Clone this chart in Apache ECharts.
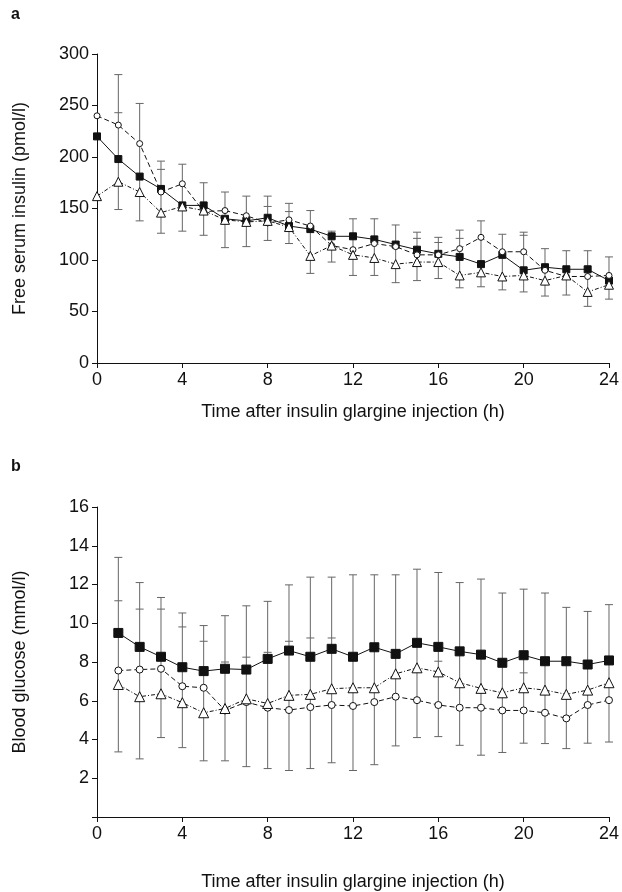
<!DOCTYPE html>
<html lang="en" style="height: 100%">
<head>
  <meta charset="utf-8">
</head>
<body style="height: 100%; margin: 0; background: #fff">
  <div id="container" style="height: 100%"></div>
  <script type="text/javascript" src="https://cdn.jsdelivr.net/npm/echarts@6/dist/echarts.min.js"></script>
  <script type="text/javascript">
    // panel a: free serum insulin (pmol/l), hours 0..24
    var hoursA = [0, 1, 2, 3, 4, 5, 6, 7, 8, 9, 10, 11, 12, 13, 14, 15, 16, 17, 18, 19, 20, 21, 22, 23, 24];
    var insulinSquare = [220, 198, 181, 169, 153, 153, 140, 138, 141, 133, 130, 123, 123, 120, 115, 110, 106, 103, 96, 105, 90, 93, 91, 91, 80];
    var insulinCircle = [240, 231, 213, 166, 174, 147, 148, 143, 136, 139, 133, 114, 110, 116, 113, 105, 105, 111, 122, 108, 108, 90, 84, 84, 85];
    var insulinTriangle = [162, 176, 166, 146, 152, 148, 139, 137, 138, 132, 104, 114, 105, 102, 96, 98, 98, 85, 88, 84, 85, 80, 85, 69, 76];
    var insulinHigh = [null, 280, 252, 196, 193, 175, 166, 162, 162, 155, 148, 128, 140, 140, 134, 127, 122, 129, 138, 125, 127, 111, 109, 109, 103];
    var insulinLow = [null, 149, 138, 126, 128, 124, 112, 113, 119, 116, 87, 98, 85, 85, 78, 80, 82, 73, 74, 71, 69, 65, 66, 55, 62];
    var insulinMid = [null, 243, null, 188, null, null, null, null, 152, 147, null, null, null, null, null, 121, 117, 121, null, null, 124, null, null, null, null];

    // panel b: blood glucose (mmol/l), hours 1..24
    var hoursB = [1, 2, 3, 4, 5, 6, 7, 8, 9, 10, 11, 12, 13, 14, 15, 16, 17, 18, 19, 20, 21, 22, 23, 24];
    var glucoseSquare = [9.5, 8.78, 8.27, 7.73, 7.53, 7.65, 7.61, 8.16, 8.59, 8.27, 8.68, 8.27, 8.76, 8.42, 8.99, 8.78, 8.55, 8.38, 7.96, 8.35, 8.04, 8.04, 7.87, 8.08];
    var glucoseCircle = [7.56, 7.61, 7.65, 6.75, 6.67, 5.5, 5.93, 5.64, 5.52, 5.67, 5.78, 5.73, 5.93, 6.21, 6.03, 5.78, 5.64, 5.64, 5.5, 5.5, 5.38, 5.09, 5.78, 6.03];
    var glucoseTriangle = [6.84, 6.21, 6.36, 5.9, 5.38, 5.6, 6.1, 5.86, 6.28, 6.33, 6.62, 6.67, 6.67, 7.39, 7.7, 7.49, 6.93, 6.64, 6.41, 6.67, 6.55, 6.33, 6.55, 6.93];
    var glucoseHigh = [13.4, 12.1, 11.33, 10.53, 9.88, 10.39, 10.9, 11.13, 11.98, 12.38, 12.38, 12.5, 12.5, 12.5, 12.79, 12.62, 12.1, 12.28, 11.56, 11.76, 11.56, 10.82, 10.61, 10.96];
    var glucoseLow = [3.36, 3.0, 4.1, 3.58, 2.9, 2.9, 2.6, 2.5, 2.4, 2.5, 2.8, 2.4, 2.7, 3.67, 4.1, 4.15, 3.7, 3.19, 3.33, 3.81, 3.79, 3.53, 3.81, 3.87];
    var glucoseMid = [11.16, 10.73, 10.73, 9.81, 9.07, 8.0, 8.25, 8.5, 9.07, 9.24, 9.24, null, null, null, null, 8.04, null, null, null, 7.44, null, null, null, null];

    var xTicks = { min: 0, max: 24, interval: 4 };
    var fontFamily = '"Liberation Sans", Arial, sans-serif';
    var fontSize = 18;

    function pairs(xs, ys) {
      return xs.map(function (x, i) { return [x, ys[i]]; });
    }
    function ranges(xs, lo, hi) {
      var out = [];
      xs.forEach(function (x, i) {
        if (lo[i] != null && hi[i] != null) out.push([x, lo[i], hi[i]]);
      });
      return out;
    }
    function singles(xs, ys) {
      var out = [];
      xs.forEach(function (x, i) { if (ys[i] != null) out.push([x, ys[i]]); });
      return out;
    }

    function renderBar(params, api) {
      var x = api.value(0);
      var lo = api.coord([x, api.value(1)]);
      var hi = api.coord([x, api.value(2)]);
      var w = 4;
      var st = { stroke: '#666', lineWidth: 1 };
      return {
        type: 'group',
        children: [
          { type: 'line', shape: { x1: lo[0], y1: lo[1], x2: hi[0], y2: hi[1] }, style: st },
          { type: 'line', shape: { x1: lo[0] - w, y1: lo[1], x2: lo[0] + w, y2: lo[1] }, style: st },
          { type: 'line', shape: { x1: hi[0] - w, y1: hi[1], x2: hi[0] + w, y2: hi[1] }, style: st }
        ]
      };
    }
    function renderCap(params, api) {
      var p = api.coord([api.value(0), api.value(1)]);
      return {
        type: 'line',
        shape: { x1: p[0] - 4, y1: p[1], x2: p[0] + 4, y2: p[1] },
        style: { stroke: '#666', lineWidth: 1 }
      };
    }

    function xAxisDef(idx, gap) {
      return {
        gridIndex: idx, type: 'value', min: xTicks.min, max: xTicks.max, interval: xTicks.interval,
        name: 'Time after insulin glargine injection (h)', nameLocation: 'middle', nameGap: gap,
        nameTextStyle: { fontSize: fontSize, color: '#111', fontFamily: fontFamily },
        axisLine: { lineStyle: { color: '#111', width: 1 } },
        axisTick: { inside: false, length: 5, lineStyle: { color: '#111' } },
        axisLabel: { fontSize: fontSize, color: '#111', fontFamily: fontFamily, margin: 8 },
        splitLine: { show: false }
      };
    }
    function yAxisDef(idx, max, step, name, hideZero) {
      return {
        gridIndex: idx, type: 'value', min: 0, max: max, interval: step,
        name: name, nameLocation: 'middle', nameGap: 68,
        nameTextStyle: { fontSize: fontSize, color: '#111', fontFamily: fontFamily },
        axisLine: { show: true, lineStyle: { color: '#111' } },
        axisTick: { show: true, length: 5, lineStyle: { color: '#111' } },
        axisLabel: {
          fontSize: fontSize, color: '#111', fontFamily: fontFamily, margin: 8,
          formatter: function (v) { return hideZero && v === 0 ? '' : v; }
        },
        splitLine: { show: false }
      };
    }

    var dom = document.getElementById('container');
    var myChart = echarts.init(dom, null, { renderer: 'canvas' });

    function lineSeries(idx, data, symbol, size, filled, dash) {
      return {
        type: 'line', xAxisIndex: idx, yAxisIndex: idx, data: data,
        symbol: symbol, symbolSize: size, z: 5,
        itemStyle: { color: filled ? '#111' : '#fff', borderColor: '#111', borderWidth: 1 },
        lineStyle: { color: '#111', width: 1, type: dash },
        animation: false
      };
    }

    var option = {
      animation: false,
      title: [
        { text: 'a', left: 6, top: 2, textStyle: { fontSize: 16, fontWeight: 'bold', color: '#111', fontFamily: fontFamily } },
        { text: 'b', left: 6, top: 454, textStyle: { fontSize: 16, fontWeight: 'bold', color: '#111', fontFamily: fontFamily } }
      ],
      grid: [
        { left: 97, right: 13, top: 54, height: 309 },
        { left: 97, right: 13, top: 507, height: 311 }
      ],
      xAxis: [xAxisDef(0, 40), xAxisDef(1, 56)],
      yAxis: [
        yAxisDef(0, 300, 50, 'Free serum insulin (pmol/l)', false),
        yAxisDef(1, 16, 2, 'Blood glucose (mmol/l)', true)
      ],
      series: [
        { type: 'custom', xAxisIndex: 0, yAxisIndex: 0, renderItem: renderBar, data: ranges(hoursA, insulinLow, insulinHigh), z: 2 },
        { type: 'custom', xAxisIndex: 0, yAxisIndex: 0, renderItem: renderCap, data: singles(hoursA, insulinMid), z: 2 },
        lineSeries(0, pairs(hoursA, insulinSquare), 'rect', 7, true, 'solid'),
        lineSeries(0, pairs(hoursA, insulinCircle), 'circle', 6, false, [5, 3]),
        lineSeries(0, pairs(hoursA, insulinTriangle), 'triangle', 9, false, [4, 2, 1, 2]),

        { type: 'custom', xAxisIndex: 1, yAxisIndex: 1, renderItem: renderBar, data: ranges(hoursB, glucoseLow, glucoseHigh), z: 2 },
        { type: 'custom', xAxisIndex: 1, yAxisIndex: 1, renderItem: renderCap, data: singles(hoursB, glucoseMid), z: 2 },
        lineSeries(1, pairs(hoursB, glucoseSquare), 'rect', 9, true, 'solid'),
        lineSeries(1, pairs(hoursB, glucoseCircle), 'circle', 7, false, [5, 3]),
        lineSeries(1, pairs(hoursB, glucoseTriangle), 'triangle', 10, false, [4, 2, 1, 2])
      ]
    };

    myChart.setOption(option);
    window.addEventListener('resize', myChart.resize);
  </script>
</body>
</html>
